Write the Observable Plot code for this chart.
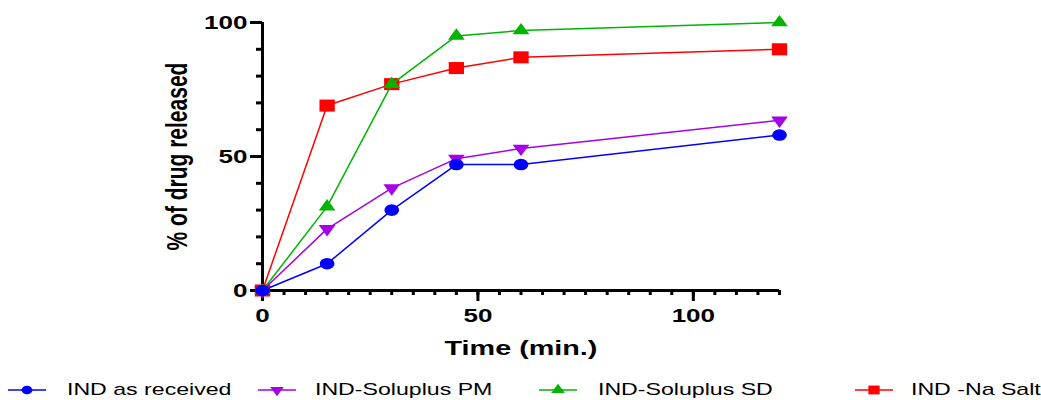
<!DOCTYPE html>
<html><head><meta charset="utf-8">
<script src="https://cdn.jsdelivr.net/npm/d3@7"></script>
<script src="https://cdn.jsdelivr.net/npm/@observablehq/plot@0.6"></script>
<style>
body{margin:0;background:#fff;font-family:"Liberation Sans",Arial,sans-serif;}
#legend{position:relative;width:1041px;height:24px;}
.item{position:absolute;top:0;height:24px;display:flex;align-items:center;font-size:17px;color:#000;white-space:nowrap;}
.item span{display:inline-block;transform:scaleX(1.36);transform-origin:left center;}
</style>
</head><body>
<div id="chart"></div>
<div id="legend"></div>
<script>
const times = [0, 15, 30, 45, 60, 120];
const seriesNames = ["IND as received", "IND-Soluplus PM", "IND-Soluplus SD", "IND -Na Salt"];
const asReceived = [0, 10, 30, 47, 47, 58];
const soluplusPM = [0, 23, 38.2, 49.2, 53, 63.5];
const soluplusSD = [0, 31.3, 77, 95, 97, 100];
const naSalt = [0, 69, 77, 83, 87, 90];
const colors = ["#0000ff", "#a500e6", "#00b400", "#ff0000"];
const symbols = ["circle", "triangle", "triangle", "square"];
const rotations = [0, 180, 0, 0];
const sizes = [5.8, 4.9, 4.9, 6.8];
const xMajor = [0, 50, 100];
const yMajor = [0, 50, 100];

const allValues = [asReceived, soluplusPM, soluplusSD, naSalt];
const data = [];
allValues.forEach((vals, si) => vals.forEach((v, i) => data.push({series: seriesNames[si], idx: si, t: times[i], v})));

// circle drawn as a path so it can be stretched like the others
const pathCircle = {draw(ctx, size) { const r = Math.sqrt(size / Math.PI); ctx.moveTo(r, 0); ctx.arc(0, 0, r, 0, 2 * Math.PI); }};
const symbolOf = s => s === "circle" ? pathCircle : s;

const W = 1041, H = 378;
const marks = [
  Plot.axisX({ticks: d3.range(0, 121, 5), tickSize: 5, strokeWidth: 3, text: null, label: null}),
  Plot.axisX({ticks: xMajor, tickSize: 11, strokeWidth: 3, tickPadding: 7, fontSize: 19, fontWeight: "bold", label: null}),
  Plot.axisY({ticks: d3.range(0, 101, 10), tickSize: 6, strokeWidth: 3, text: null, label: null}),
  Plot.axisY({ticks: yMajor, tickSize: 12, strokeWidth: 3, tickPadding: 3, fontSize: 19, fontWeight: "bold", label: null}),
  Plot.ruleY([0], {stroke: "#000", strokeWidth: 3}),
  Plot.ruleX([0], {stroke: "#000", strokeWidth: 3}),
  Plot.text(["Time (min.)"], {frameAnchor: "bottom", dy: 64, fontSize: 21, fontWeight: "bold", fill: "#000"}),
  Plot.text(["% of drug released"], {frameAnchor: "left", dx: -85, rotate: -90, textAnchor: "middle", fontSize: 21, fontWeight: "bold", fill: "#000"})
];
[3, 2, 1, 0].forEach(si => {
  const sub = data.filter(d => d.idx === si);
  marks.push(Plot.line(sub, {x: "t", y: "v", stroke: colors[si], strokeWidth: 1.5}));
  marks.push(Plot.dot(sub, {x: "t", y: "v", symbol: symbolOf(symbols[si]), r: sizes[si], rotate: rotations[si], fill: colors[si], stroke: "none"}));
});

const chart = Plot.plot({
  width: W, height: H,
  marginLeft: 262, marginRight: 262, marginTop: 22, marginBottom: H - 290,
  x: {domain: [0, 120]},
  y: {domain: [0, 100]},
  style: {fontFamily: "'Liberation Sans', Arial, sans-serif", color: "#000", background: "#fff", overflow: "visible"},
  marks
});
document.getElementById("chart").appendChild(chart);

// horizontal stretch of texts and markers, as in the reference
const SX = 1.37;
d3.select(chart).selectAll("text").each(function() {
  const t = this.getAttribute("transform") || "";
  const rotated = /rotate\(\s*-?90/.test(t);
  this.setAttribute("transform", `${t} ${rotated ? `scale(1,${SX})` : `scale(${SX},1)`}`);
});
d3.select(chart).selectAll("g[aria-label=dot] path").each(function() {
  const t = this.getAttribute("transform") || "";
  this.setAttribute("transform", `${t} scale(1.27,1)`);
});

// legend
const legendLefts = [8, 258, 539, 855];
const textStarts = [67, 315, 598, 911];
const legSizes = [4.3, 4, 4, 5];
const leg = d3.select("#legend");
seriesNames.forEach((name, si) => {
  const w = textStarts[si] - legendLefts[si];
  const item = leg.append("div").attr("class", "item").style("left", legendLefts[si] + "px");
  const svg = item.append("svg").attr("width", w).attr("height", 24);
  svg.append("line").attr("x1", 0).attr("x2", 38).attr("y1", 12).attr("y2", 12).attr("stroke", colors[si]).attr("stroke-width", 1.5);
  const symType = symbols[si] === "circle" ? d3.symbolCircle : symbols[si] === "square" ? d3.symbolSquare : d3.symbolTriangle;
  svg.append("path").attr("d", d3.symbol(symType, Math.PI * legSizes[si] * legSizes[si])()).attr("fill", colors[si])
    .attr("transform", `translate(19,12) scale(1.27,1) rotate(${rotations[si]})`);
  item.append("span").text(name);
});
</script>
</body></html>
